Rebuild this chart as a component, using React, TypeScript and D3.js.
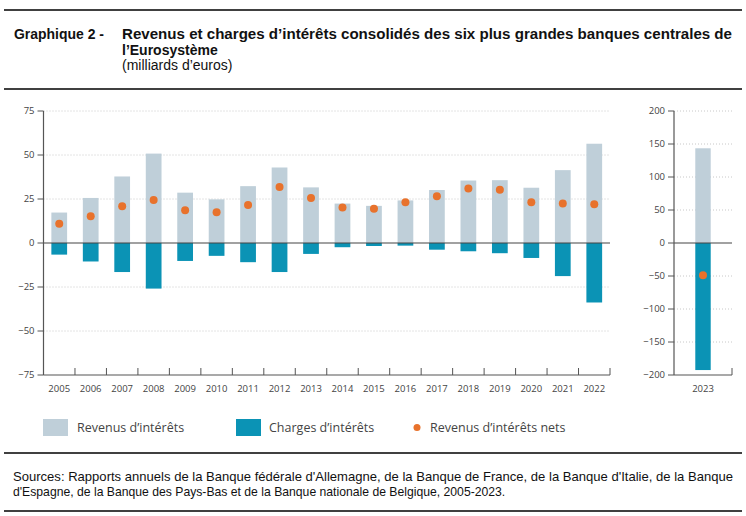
import React from "react";
import * as d3 from "d3";

const years = ["2005","2006","2007","2008","2009","2010","2011","2012","2013","2014","2015","2016","2017","2018","2019","2020","2021","2022"];
const revenus = [17.3,25.6,37.8,50.8,28.6,24.8,32.3,42.9,31.6,22.4,21.1,24.2,30.1,35.5,35.7,31.4,41.4,56.4];
const charges = [-6.6,-10.5,-16.5,-25.9,-10.2,-7.3,-10.9,-16.5,-6.2,-2.4,-1.7,-1.5,-3.8,-4.7,-5.8,-8.5,-18.8,-33.8];
const nets = [10.9,15.2,20.9,24.4,18.6,17.5,21.6,31.8,25.6,20.1,19.5,23.1,26.5,31.0,30.3,23.1,22.4,22.0];

const years2 = ["2023"];
const revenus2 = [143.5];
const charges2 = [-192.5];
const nets2 = [-49];

const ticksMain = [75, 50, 25, 0, -25, -50, -75];
const ticksRight = [200, 150, 100, 50, 0, -50, -100, -150, -200];

const C_REV = "#bfcfd9";
const C_CHG = "#0b93b5";
const C_NET = "#e8722c";
const AXIS = "#555";
const TXT = "#444";
const FONT = "'Open Sans', sans-serif";
const TFONT = "'Liberation Sans', Arial, sans-serif";

const fmt = (v: number) => (v < 0 ? "\u2212" + Math.abs(v) : String(v));

function Panel({ cats, rev, chg, net, ticks, x0, x1, top, bottom, outer }: {
  cats: string[]; rev: number[]; chg: number[]; net: number[]; ticks: number[];
  x0: number; x1: number; top: number; bottom: number; outer: number;
}) {
  const y = d3.scaleLinear().domain([ticks[ticks.length - 1], ticks[0]]).range([bottom, top]);
  const x = d3.scaleBand().domain(cats).range([x0, x1]).paddingInner(0.5).paddingOuter(outer);
  const step = (x1 - x0) / cats.length;
  return (
    <g>
      {ticks.map((t) => (
        <g key={t}>
          {t !== 0 && t !== ticks[ticks.length - 1] && (
            <line x1={x0} x2={x1} y1={y(t)} y2={y(t)} stroke="#c8c8c8" strokeWidth={1} strokeDasharray="1,2" />
          )}
          <line x1={x0 - 6} x2={x0} y1={y(t)} y2={y(t)} stroke={AXIS} />
          <text x={x0 - 9} y={y(t)} dy="0.35em" textAnchor="end" fontSize={9.5} fill={TXT} fontFamily={FONT}>{fmt(t)}</text>
        </g>
      ))}
      {cats.map((c, i) => (
        <g key={c}>
          <rect x={x(c)} width={x.bandwidth()} y={y(rev[i])} height={y(0) - y(rev[i])} fill={C_REV} />
          <rect x={x(c)} width={x.bandwidth()} y={y(0)} height={y(chg[i]) - y(0)} fill={C_CHG} />
          <text x={(x(c) as number) + x.bandwidth() / 2} y={bottom + 17} textAnchor="middle" fontSize={9.5} fill={TXT} fontFamily={FONT}>{c}</text>
        </g>
      ))}
      {cats.map((c, i) => (
        <circle key={c} cx={(x(c) as number) + x.bandwidth() / 2} cy={y(net[i])} r={4} fill={C_NET} />
      ))}
      <line x1={x0} x2={x1} y1={y(0)} y2={y(0)} stroke="#444" strokeWidth={1.2} />
      <line x1={x0} x2={x0} y1={top} y2={bottom} stroke={AXIS} strokeWidth={1.2} />
      <line x1={x0} x2={x1} y1={bottom} y2={bottom} stroke={AXIS} strokeWidth={1.2} />
      {cats.map((c, i) => (
        <line key={c} x1={x0 + step * (i + 1)} x2={x0 + step * (i + 1)} y1={bottom} y2={bottom - 7} stroke={AXIS} />
      ))}
    </g>
  );
}

export default function App() {
  const W = 746, H = 516;
  return (
    <svg width={W} height={H} style={{ position: "absolute", left: 0, top: 0, background: "#fff" }}>
      <line x1={4} x2={742} y1={10} y2={10} stroke="#000" strokeWidth={1.5} />
      <text x={14} y={39} fontFamily={TFONT} fontWeight="bold" fontSize={14} fill="#111" textLength={90} lengthAdjust="spacingAndGlyphs">Graphique 2 -</text>
      <text x={122} y={39} fontFamily={TFONT} fontWeight="bold" fontSize={14} fill="#111" textLength={610} lengthAdjust="spacingAndGlyphs">Revenus et charges d’intérêts consolidés des six plus grandes banques centrales de</text>
      <text x={122} y={55} fontFamily={TFONT} fontWeight="bold" fontSize={14} fill="#111">l’Eurosystème</text>
      <text x={122} y={70} fontFamily={TFONT} fontSize={14} fill="#111">(milliards d’euros)</text>
      <line x1={4} x2={742} y1={89} y2={89} stroke="#000" strokeWidth={1.5} />

      <Panel cats={years} rev={revenus} chg={charges} net={nets} ticks={ticksMain} x0={43.5} x1={610} top={111} bottom={375} outer={0.25} />
      <Panel cats={years2} rev={revenus2} chg={charges2} net={nets2} ticks={ticksRight} x0={674} x1={732} top={111} bottom={375} outer={0.69} />

      <rect x={43} y={419} width={25} height={17} fill={C_REV} />
      <text x={77} y={432} fontFamily={FONT} fontSize={12.5} fill={TXT}>Revenus d’intérêts</text>
      <rect x={236} y={419} width={25} height={17} fill={C_CHG} />
      <text x={269} y={432} fontFamily={FONT} fontSize={12.5} fill={TXT}>Charges d’intérêts</text>
      <circle cx={417} cy={427.5} r={3.5} fill={C_NET} />
      <text x={430} y={432} fontFamily={FONT} fontSize={12.5} fill={TXT}>Revenus d’intérêts nets</text>

      <line x1={4} x2={742} y1={453} y2={453} stroke="#000" strokeWidth={1.5} />
      <text x={13} y={481} fontFamily={TFONT} fontSize={12.2} fill="#111" textLength={720} lengthAdjust="spacingAndGlyphs">Sources: Rapports annuels de la Banque fédérale d'Allemagne, de la Banque de France, de la Banque d'Italie, de la Banque</text>
      <text x={13} y={496} fontFamily={TFONT} fontSize={12.2} fill="#111">d'Espagne, de la Banque des Pays-Bas et de la Banque nationale de Belgique, 2005-2023.</text>
      <line x1={4} x2={742} y1={511} y2={511} stroke="#000" strokeWidth={1.5} />
    </svg>
  );
}
